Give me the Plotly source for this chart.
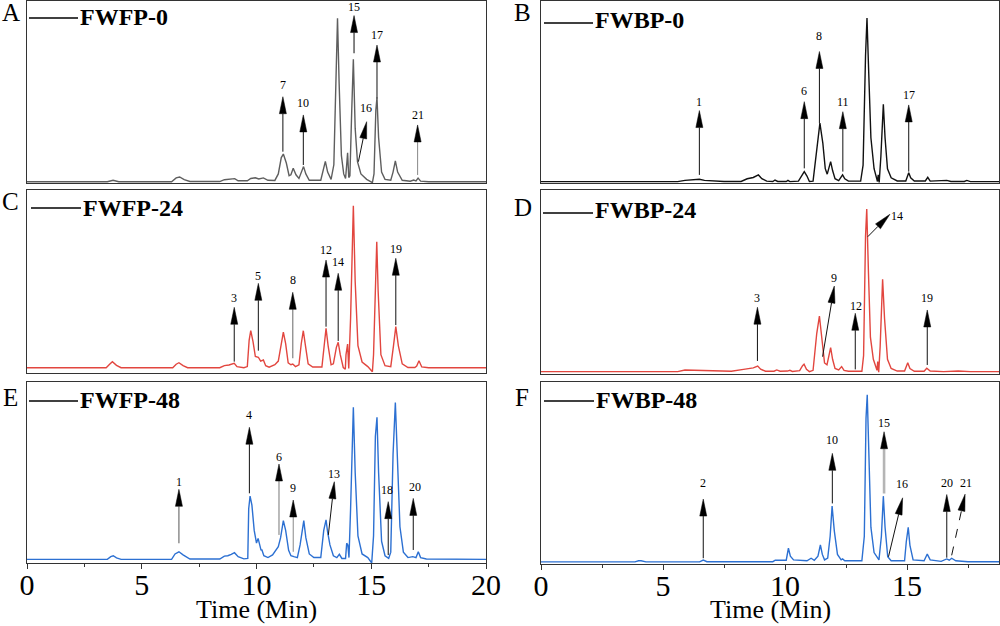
import math
import plotly.graph_objects as go

FIG_W, FIG_H = 1000, 626

# ===== chromatogram data: (retention time [min], relative response [%]) =====
FWFP_0 = [(0, 0.7), (3.5, 0.7), (3.75, 1.5), (4.0, 0.7), (6.3, 0.7), (6.5, 2.8), (6.65, 3.3), (6.85, 1.8),
          (7.1, 0.8), (8.4, 0.8), (8.6, 1.8), (8.9, 2.0), (9.05, 2.4), (9.2, 1.2), (9.6, 1.2), (9.75, 2.5),
          (9.95, 2.9), (10.1, 2.2), (10.3, 2.8), (10.5, 1.5), (10.8, 1.4), (10.95, 5.0), (11.08, 14.0),
          (11.17, 15.9), (11.3, 11.0), (11.42, 4.0), (11.5, 4.5), (11.6, 8.1), (11.72, 4.5), (11.85, 2.5),
          (11.95, 6.0), (12.05, 9.0), (12.15, 5.0), (12.3, 1.5), (12.8, 1.5), (12.92, 8.0), (13.0, 11.9),
          (13.1, 6.0), (13.25, 2.0), (13.37, 10.0), (13.47, 65.0), (13.53, 90.5), (13.6, 55.0), (13.7, 15.0),
          (13.8, 5.0), (13.88, 2.5), (13.93, 10.0), (13.97, 16.6), (14.02, 3.0), (14.07, 4.0), (14.15, 40.0),
          (14.22, 68.0), (14.3, 30.0), (14.4, 11.7), (14.55, 5.0), (14.8, 2.0), (15.05, 0.2), (15.12, 5.0),
          (15.2, 40.0), (15.25, 46.9), (15.32, 25.0), (15.45, 6.0), (15.6, 2.0), (15.85, 1.5), (15.95, 6.0),
          (16.05, 12.1), (16.15, 6.0), (16.35, 1.5), (16.7, 1.0), (16.85, 1.6), (16.95, 1.2), (17.04, 2.7),
          (17.15, 1.0), (17.5, 0.7), (20, 0.7)]

FWBP_0 = [(0, 0.9), (5.6, 0.9), (5.9, 1.6), (6.3, 1.8), (6.49, 2.2), (6.7, 1.6), (7.1, 1.3), (7.5, 1.0),
          (8.2, 1.0), (8.45, 2.5), (8.7, 3.2), (8.91, 4.6), (9.05, 2.5), (9.25, 1.2), (9.5, 1.0), (9.59, 1.8),
          (9.7, 1.0), (10.05, 1.0), (10.12, 1.6), (10.2, 0.9), (10.55, 1.2), (10.7, 4.5), (10.79, 6.4),
          (10.9, 4.0), (11.0, 1.0), (11.15, 1.2), (11.3, 18.0), (11.43, 33.0), (11.55, 22.0), (11.65, 8.0),
          (11.73, 5.0), (11.8, 9.0), (11.87, 11.9), (11.95, 7.0), (12.05, 2.5), (12.2, 1.5), (12.3, 3.5),
          (12.36, 4.6), (12.45, 2.5), (12.6, 1.2), (13.1, 1.2), (13.2, 10.0), (13.3, 70.0), (13.36, 90.7),
          (13.42, 65.0), (13.52, 25.0), (13.65, 8.0), (13.75, 3.0), (13.79, 1.0), (13.82, 4.6), (13.86, 0.5),
          (13.93, 15.0), (14.03, 43.4), (14.1, 25.0), (14.2, 8.0), (14.35, 3.0), (14.6, 1.3), (14.95, 1.3),
          (15.02, 4.5), (15.07, 5.8), (15.15, 3.0), (15.3, 1.3), (15.75, 1.3), (15.85, 3.3), (15.95, 1.2),
          (16.5, 1.2), (16.63, 1.6), (16.8, 1.0), (17.35, 1.0), (17.45, 1.6), (17.6, 0.9), (18.77, 0.9)]

FWFP_24 = [(0, 2.9), (3.45, 2.9), (3.6, 4.8), (3.72, 6.2), (3.9, 4.2), (4.1, 2.9), (6.35, 2.9), (6.5, 4.8),
           (6.62, 5.6), (6.8, 4.0), (7.0, 2.9), (8.4, 2.9), (8.6, 4.0), (8.8, 4.4), (9.03, 5.3), (9.15, 3.5),
           (9.45, 2.9), (9.6, 3.5), (9.68, 18.0), (9.75, 23.1), (9.85, 17.0), (9.95, 9.0), (10.08, 8.6),
           (10.18, 6.5), (10.3, 7.1), (10.4, 4.0), (10.55, 3.2), (10.8, 4.5), (10.95, 6.5), (11.05, 14.0),
           (11.17, 22.4), (11.27, 16.0), (11.38, 5.5), (11.5, 4.5), (11.58, 4.9), (11.7, 3.5), (11.85, 4.5),
           (11.95, 16.0), (12.04, 23.1), (12.12, 16.0), (12.25, 5.0), (12.45, 3.3), (12.85, 3.3), (12.95, 15.0),
           (13.03, 24.4), (13.12, 15.0), (13.25, 4.5), (13.35, 5.0), (13.48, 14.0), (13.56, 16.8), (13.65, 10.0),
           (13.78, 3.0), (13.87, 2.0), (13.9, 10.0), (13.97, 15.8), (14.02, 2.5), (14.1, 30.0), (14.22, 91.4),
           (14.3, 50.0), (14.42, 15.0), (14.6, 6.0), (14.85, 3.5), (15.05, 0.7), (15.1, 10.0), (15.18, 55.0),
           (15.24, 71.7), (15.3, 45.0), (15.42, 10.0), (15.6, 4.0), (15.85, 3.5), (15.97, 15.0), (16.07, 25.3),
           (16.18, 15.0), (16.35, 5.0), (16.6, 3.0), (16.9, 3.0), (16.98, 3.8), (17.08, 6.7), (17.2, 3.3),
           (17.5, 2.9), (20, 2.9)]

FWBP_24 = [(0, 1.3), (5.6, 1.3), (5.9, 2.2), (6.6, 2.0), (7.1, 1.6), (7.8, 1.5), (8.3, 2.5), (8.5, 3.1),
           (8.7, 3.3), (8.88, 4.3), (9.0, 2.6), (9.2, 1.5), (9.55, 1.5), (9.66, 2.2), (9.8, 1.5), (10.1, 1.6),
           (10.2, 2.0), (10.3, 1.4), (10.6, 1.8), (10.72, 4.5), (10.78, 5.3), (10.88, 2.5), (11.0, 1.3),
           (11.15, 2.0), (11.3, 22.0), (11.41, 31.5), (11.52, 18.0), (11.62, 6.0), (11.72, 5.0), (11.8, 11.0),
           (11.87, 14.3), (11.95, 8.0), (12.05, 3.0), (12.2, 2.2), (12.32, 4.0), (12.42, 2.0), (12.6, 1.5),
           (13.15, 1.5), (13.22, 10.0), (13.3, 75.0), (13.35, 89.7), (13.42, 55.0), (13.5, 20.0), (13.62, 8.0),
           (13.73, 3.0), (13.77, 2.0), (13.8, 6.7), (13.84, 1.0), (13.9, 15.0), (14.0, 51.5), (14.08, 30.0),
           (14.2, 8.0), (14.35, 3.0), (14.6, 1.6), (14.9, 1.6), (14.97, 4.5), (15.03, 6.1), (15.12, 3.0),
           (15.3, 1.5), (15.7, 1.5), (15.81, 3.1), (15.95, 1.6), (16.5, 1.3), (17.1, 1.6), (17.6, 1.3),
           (18.77, 1.3)]

FWFP_48 = [(0, 2.0), (3.5, 2.0), (3.65, 3.5), (3.76, 4.0), (3.9, 2.8), (4.1, 2.0), (6.3, 2.0), (6.45, 5.0),
           (6.62, 6.2), (6.8, 4.5), (7.1, 2.2), (8.4, 2.2), (8.6, 3.8), (8.75, 4.0), (8.9, 4.8), (9.04, 5.7),
           (9.2, 3.5), (9.45, 2.3), (9.62, 2.5), (9.66, 30.0), (9.72, 37.0), (9.8, 32.0), (9.9, 18.0),
           (10.0, 11.0), (10.07, 13.6), (10.13, 10.0), (10.2, 7.0), (10.23, 7.5), (10.32, 4.0), (10.5, 3.0),
           (10.7, 4.5), (10.95, 9.0), (11.05, 14.0), (11.17, 23.4), (11.27, 18.0), (11.4, 7.0), (11.5, 4.0),
           (11.63, 3.5), (11.78, 3.0), (11.9, 10.0), (12.06, 23.4), (12.15, 14.0), (12.3, 5.0), (12.5, 3.0),
           (12.8, 3.0), (12.93, 18.0), (13.03, 23.8), (13.1, 17.0), (13.2, 10.0), (13.35, 4.0), (13.5, 3.0),
           (13.61, 4.8), (13.72, 2.5), (13.88, 2.5), (13.93, 10.9), (13.98, 10.0), (14.03, 3.0), (14.1, 30.0),
           (14.22, 86.0), (14.3, 50.0), (14.42, 15.0), (14.6, 5.0), (14.85, 3.0), (15.02, 0.0), (15.1, 15.0),
           (15.18, 70.0), (15.25, 80.5), (15.32, 50.0), (15.45, 12.0), (15.6, 4.0), (15.76, 2.6), (15.85, 6.0),
           (15.95, 60.0), (16.05, 88.6), (16.13, 60.0), (16.25, 20.0), (16.4, 6.0), (16.6, 3.0), (16.81, 3.5),
           (16.95, 3.0), (17.05, 6.2), (17.15, 3.0), (17.4, 2.2), (20, 2.0)]

FWBP_48 = [(0, 0.9), (3.85, 0.9), (4.0, 1.5), (4.1, 1.5), (4.3, 0.9), (6.5, 0.9), (6.65, 1.9), (6.8, 1.0),
           (9.5, 1.0), (9.6, 1.8), (10.05, 1.8), (10.1, 6.0), (10.14, 8.4), (10.22, 4.0), (10.35, 2.0),
           (10.9, 1.5), (11.07, 2.9), (11.2, 1.8), (11.35, 4.0), (11.45, 10.2), (11.53, 5.0), (11.62, 2.0),
           (11.75, 3.0), (11.85, 15.0), (11.93, 31.6), (12.02, 18.0), (12.15, 5.0), (12.3, 2.0), (12.36, 2.5),
           (12.45, 1.5), (13.15, 1.5), (13.25, 15.0), (13.32, 80.0), (13.37, 93.0), (13.43, 65.0), (13.52, 20.0),
           (13.65, 6.0), (13.85, 2.0), (13.95, 15.0), (14.03, 37.1), (14.1, 20.0), (14.21, 3.7), (14.35, 1.5),
           (14.9, 1.5), (14.97, 12.0), (15.05, 19.9), (15.12, 10.0), (15.25, 2.0), (15.7, 1.5), (15.83, 5.2),
           (15.95, 2.0), (16.4, 1.2), (16.63, 2.5), (16.73, 1.8), (16.83, 2.9), (17.0, 1.5), (17.5, 1.0),
           (18.77, 1.0)]

# ===== peak labels: (label, tail time, tail resp, tip time, tip resp, label time, label resp) =====
PEAKS_A = [("7", 11.15, 17.2, 11.15, 47.4, 11.15, 53.8), ("10", 12.04, 9.9, 12.04, 37.4, 12.04, 43.8),
           ("15", 14.25, 71.3, 14.25, 92.0, 14.25, 96.9), ("16", 14.44, 11.7, 14.80, 33.7, 14.77, 41.0),
           ("17", 15.25, 46.5, 15.25, 75.8, 15.25, 81.3), ("21", 17.02, 4.4, 17.02, 31.9, 17.02, 37.4)]
PEAKS_B = [("1", 6.49, 4.6, 6.49, 39.9, 6.49, 44.8), ("6", 10.79, 8.2, 10.79, 44.8, 10.79, 50.9),
           ("8", 11.41, 33.0, 11.41, 72.3, 11.41, 81.0), ("11", 12.37, 6.4, 12.37, 39.3, 12.37, 44.8),
           ("17", 15.07, 6.4, 15.07, 43.0, 15.07, 48.5)]
PEAKS_C = [("3", 9.03, 6.2, 9.03, 35.9, 9.03, 40.8), ("5", 10.08, 12.2, 10.08, 49.0, 10.08, 53.2),
           ("8", 11.58, 8.0, 11.58, 44.1, 11.58, 50.8), ("12", 13.03, 25.3, 13.03, 61.7, 13.03, 67.2),
           ("14", 13.56, 17.5, 13.56, 54.5, 13.56, 60.5), ("19", 16.07, 26.2, 16.07, 62.7, 16.07, 67.6)]
PEAKS_D = [("3", 8.87, 7.1, 8.87, 36.3, 8.87, 41.1), ("9", 11.54, 9.4, 12.02, 47.8, 12.02, 52.3),
           ("12", 12.88, 2.5, 12.88, 33.0, 12.9, 36.9), ("14", 13.39, 74.6, 14.30, 86.8, 14.61, 86.0),
           ("19", 15.83, 4.9, 15.83, 34.8, 15.83, 41.1)]
PEAKS_E = [("1", 6.62, 10.9, 6.62, 40.7, 6.62, 44.9), ("4", 9.69, 38.5, 9.69, 75.0, 9.69, 81.8),
           ("6", 10.98, 15.5, 10.98, 54.7, 10.98, 58.6), ("9", 11.60, 6.2, 11.60, 34.8, 11.60, 41.3),
           ("13", 13.13, 15.5, 13.39, 44.9, 13.39, 49.2), ("18", 15.74, 4.4, 15.74, 33.9, 15.67, 40.3),
           ("20", 16.83, 7.2, 16.83, 35.7, 16.9, 41.8)]
PEAKS_F = [("2", 6.65, 2.9, 6.65, 35.5, 6.65, 44.1), ("10", 11.94, 33.1, 11.94, 60.7, 11.94, 67.9),
           ("15", 14.06, 38.6, 14.06, 72.6, 14.06, 77.2), ("16", 14.24, 3.7, 14.82, 36.2, 14.80, 43.7),
           ("20", 16.63, 3.2, 16.63, 38.0, 16.63, 44.1), ("21", 16.83, 4.5, 17.38, 38.2, 17.42, 44.4)]

SAMPLE_NAMES = ["FWFP-0", "FWBP-0", "FWFP-24", "FWBP-24", "FWFP-48", "FWBP-48"]
PANEL_LETTERS = ["A", "B", "C", "D", "E", "F"]
X_TITLE = "Time (Min)"

# ===== styling =====
GRAY, BLACK, RED, BLUE = "#5e5e5e", "#111111", "#e2463f", "#2c70d2"
FRAME = "#333333"
SERIF = "Liberation Serif"
HEAD_LEN, HEAD_W = 17.0, 7.0   # arrow head size in px

# arrow line styles per panel: label -> (color, width, dash)
ARROW_STYLE = {
    ("A", "15"): ("#333333", 1.2, "solid"), ("A", "21"): ("#888888", 1.0, "solid"),
    ("C", "8"): ("#8a8a8a", 1.3, "solid"), ("E", "6"): ("#777777", 1.0, "solid"),
    ("E", "9"): ("#888888", 1.0, "solid"), ("E", "1"): ("#555555", 1.0, "solid"),
    ("F", "15"): ("#b5b5b5", 2.6, "solid"), ("F", "21"): ("#111111", 1.0, "dash"),
    ("F", "16"): ("#111111", 1.0, "solid"),
}

panels = [
    dict(data=FWFP_0, peaks=PEAKS_A, color=GRAY, frame=(27, 486, 1, 183), xr=[0, 20], bottom=False,
         leg=(29, 78, 18, 17), letter=(11, 12)),
    dict(data=FWBP_0, peaks=PEAKS_B, color=BLACK, frame=(541, 999, 1, 183.3), xr=[0, 18.77], bottom=False,
         leg=(544, 593, 23, 20), letter=(522, 12)),
    dict(data=FWFP_24, peaks=PEAKS_C, color=RED, frame=(27, 486, 190, 373), xr=[0, 20], bottom=False,
         leg=(31, 81, 208, 208), letter=(10, 201)),
    dict(data=FWBP_24, peaks=PEAKS_D, color=RED, frame=(541, 999, 190, 374), xr=[0, 18.77], bottom=False,
         leg=(543, 593, 213, 210), letter=(523, 207)),
    dict(data=FWFP_48, peaks=PEAKS_E, color=BLUE, frame=(27, 486, 382, 563), xr=[0, 20], bottom=True,
         leg=(29, 78, 401, 400), letter=(10, 397)),
    dict(data=FWBP_48, peaks=PEAKS_F, color=BLUE, frame=(541, 999, 382, 563.5), xr=[0, 18.77], bottom=True,
         leg=(544, 594, 401, 400), letter=(522, 397)),
]

fig = go.Figure()
shapes, annotations = [], []
layout_axes = {}

for i, p in enumerate(panels, start=1):
    sfx = "" if i == 1 else str(i)
    xa, ya = "x" + sfx, "y" + sfx
    letter = PANEL_LETTERS[i - 1]
    x0p, x1p, y0p, y1p = p["frame"]
    xdom = [x0p / FIG_W, x1p / FIG_W]
    ydom = [1 - y1p / FIG_H, 1 - y0p / FIG_H]
    yr = [0, 100]
    sx = (x1p - x0p) / (p["xr"][1] - p["xr"][0])
    sy = (y1p - y0p) / (yr[1] - yr[0])

    fig.add_trace(go.Scatter(
        x=[q[0] for q in p["data"]], y=[q[1] for q in p["data"]], mode="lines",
        line=dict(color=p["color"], width=1.4), xaxis=xa, yaxis=ya,
        hoverinfo="skip", showlegend=False))

    xaxis = dict(domain=xdom, range=p["xr"], anchor=ya, showline=True, mirror=True,
                 linecolor=FRAME, linewidth=1.3, showgrid=False, zeroline=False,
                 fixedrange=True, automargin=False)
    if p["bottom"]:
        xaxis.update(ticks="outside", ticklen=5, tickwidth=1.2, tickcolor=FRAME,
                     tick0=0, dtick=5, showticklabels=True, ticklabelstandoff=-10,
                     tickfont=dict(family=SERIF, size=30, color="black"),
                     minor=dict(ticks="outside", ticklen=3, tickwidth=1, tickcolor=FRAME,
                                tick0=0, dtick=2.5, showgrid=False))
    else:
        xaxis.update(ticks="", showticklabels=False)
    yaxis = dict(domain=ydom, range=yr, anchor=xa, showline=True, mirror=True,
                 linecolor=FRAME, linewidth=1.3, showgrid=False, zeroline=False,
                 ticks="", showticklabels=False, fixedrange=True, automargin=False)
    layout_axes["xaxis" + sfx] = xaxis
    layout_axes["yaxis" + sfx] = yaxis

    # peak arrows (arrowhead at the label end) and labels
    for lab, tt, ty, ht, hy, lt, ly in p["peaks"]:
        lc, lw, dash = ARROW_STYLE.get((letter, lab), ("#111111", 1.0, "solid"))
        dx, dy = (ht - tt) * sx, (hy - ty) * sy
        L = math.hypot(dx, dy)
        ux, uy = dx / L, dy / L
        bx, by = ht - HEAD_LEN * ux / sx, hy - HEAD_LEN * uy / sy
        nx, ny = -uy, ux
        c1 = (bx + HEAD_W / 2 * nx / sx, by + HEAD_W / 2 * ny / sy)
        c2 = (bx - HEAD_W / 2 * nx / sx, by - HEAD_W / 2 * ny / sy)
        shapes.append(dict(type="line", xref=xa, yref=ya, x0=tt, y0=ty, x1=bx, y1=by,
                           line=dict(color=lc, width=lw, dash=dash)))
        shapes.append(dict(type="path", xref=xa, yref=ya,
                           path=f"M{ht},{hy} L{c1[0]},{c1[1]} L{c2[0]},{c2[1]} Z",
                           fillcolor="black", line=dict(color="black", width=0.5)))
        annotations.append(dict(xref=xa, yref=ya, x=lt, y=ly, text=lab, showarrow=False,
                                xanchor="center", yanchor="middle",
                                font=dict(family=SERIF, size=12, color="black")))

    # sample-name key (line + bold name)
    lx0, lx1, lly, lty = p["leg"]
    shapes.append(dict(type="line", xref="paper", yref="paper", x0=lx0 / FIG_W, x1=lx1 / FIG_W,
                       y0=1 - lly / FIG_H, y1=1 - lly / FIG_H, line=dict(color="black", width=1.5)))
    annotations.append(dict(xref="paper", yref="paper", x=lx1 / FIG_W, y=1 - lty / FIG_H,
                            text="<b>" + SAMPLE_NAMES[i - 1] + "</b>", showarrow=False,
                            xanchor="left", yanchor="middle",
                            font=dict(family=SERIF, size=24, color="black")))
    # panel letter
    lx, ly = p["letter"]
    annotations.append(dict(xref="paper", yref="paper", x=lx / FIG_W, y=1 - ly / FIG_H,
                            text=letter, showarrow=False, xanchor="center", yanchor="middle",
                            font=dict(family=SERIF, size=25, color="black")))
    if p["bottom"]:
        annotations.append(dict(xref="paper", yref="paper", x=(x0p + x1p) / 2 / FIG_W,
                                y=1 - 609 / FIG_H, text=X_TITLE, showarrow=False,
                                xanchor="center", yanchor="middle",
                                font=dict(family=SERIF, size=26, color="black")))

fig.update_layout(width=FIG_W, height=FIG_H, margin=dict(l=0, r=0, t=0, b=0, autoexpand=False),
                  paper_bgcolor="white", plot_bgcolor="white", showlegend=False,
                  shapes=shapes, annotations=annotations, **layout_axes)

fig.write_html("out.html", config={"displayModeBar": False},
               post_script="document.body.style.margin='0px';document.body.style.overflow='hidden';")
